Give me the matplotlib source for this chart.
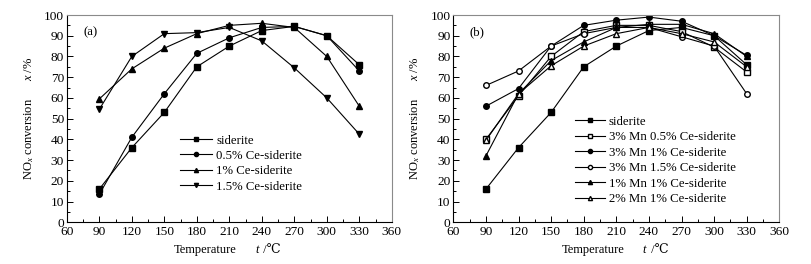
import matplotlib
matplotlib.use("Agg")
import matplotlib.pyplot as plt
from matplotlib.ticker import MultipleLocator

plt.rcParams['font.family'] = ['Liberation Serif', 'DejaVu Serif']
plt.rcParams['mathtext.fontset'] = 'custom'
plt.rcParams['mathtext.rm'] = 'Liberation Serif'
plt.rcParams['mathtext.it'] = 'Liberation Serif:italic'

temps = [90, 120, 150, 180, 210, 240, 270, 300, 330]

# Panel (a)
a_siderite = [16, 36, 53, 75, 85, 92.5, 94.5, 90, 76]
a_ce05 = [13.5, 41, 62, 81.5, 89, 94, 94.5, 90, 73]
a_ce1 = [59.5, 74, 84, 91, 95, 96, 94, 80, 56]
a_ce15 = [54.5, 80, 91, 91.5, 94, 87.5, 74.5, 60, 42.5]

# Panel (b)
b_siderite = [16, 36, 53, 75, 85, 92.5, 94, 90, 76]
b_mn3_ce05 = [40, 61, 80, 92, 95, 95, 92, 84.5, 72.5]
b_mn3_ce1 = [56, 64.5, 85, 95, 97.5, 99, 97, 90, 80.5]
b_mn3_ce15 = [66, 73, 85, 91, 94, 94, 89.5, 85, 62]
b_mn1_ce1 = [32, 62, 78, 87, 94, 95.5, 95.5, 91, 80]
b_mn2_ce1 = [39.5, 62, 75.5, 85, 91, 94, 91, 87, 75]

labels_a = ['siderite', '0.5% Ce-siderite', '1% Ce-siderite', '1.5% Ce-siderite']
labels_b = ['siderite', '3% Mn 0.5% Ce-siderite', '3% Mn 1% Ce-siderite',
            '3% Mn 1.5% Ce-siderite', '1% Mn 1% Ce-siderite', '2% Mn 1% Ce-siderite']

FS = 9.2

fig = plt.figure(figsize=(8.12, 2.64), dpi=100)
ax1 = fig.add_axes([66.8/812, 1-222.3/264, 325/812, 207.3/264])
ax2 = fig.add_axes([453.3/812, 1-222.3/264, 326/812, 207.3/264])

def style(ax, tag, xt_t, xt_unit):
    ax.set_xlim(60, 360)
    ax.set_ylim(0, 100)
    ax.xaxis.set_major_locator(MultipleLocator(30))
    ax.xaxis.set_minor_locator(MultipleLocator(15))
    ax.yaxis.set_major_locator(MultipleLocator(10))
    ax.yaxis.set_minor_locator(MultipleLocator(5))
    ax.tick_params(which='both', direction='in', top=False, right=False, labelsize=9.6)
    ax.tick_params(axis='y', pad=2)
    ax.tick_params(axis='x', pad=3)
    ax.tick_params(which='major', length=4, width=0.7)
    ax.tick_params(which='minor', length=2, width=0.7)
    for s in ['top', 'right']:
        ax.spines[s].set_color('#8a8a8a')
        ax.spines[s].set_linewidth(0.8)
    for s in ['left', 'bottom']:
        ax.spines[s].set_linewidth(0.8)
    ax.text(xt_t, -0.134, 'Temperature', transform=ax.transAxes, fontsize=9,
            ha='left', va='center')
    ax.text(xt_unit, -0.134, 't', transform=ax.transAxes, fontsize=9,
            ha='left', va='center', style='italic')
    ax.text(xt_unit + 0.016, -0.134, ' /\u2103', transform=ax.transAxes, fontsize=9,
            ha='left', va='center')
    ax.set_ylabel('NO$_x$ conversion      $x$ /%', fontsize=9, labelpad=6)
    ax.text(0.05, 0.918, tag, transform=ax.transAxes, fontsize=FS, va='center')

kw = dict(color='black', lw=0.8, ms=4)
legkw = dict(loc='lower left', frameon=False, fontsize=FS, handletextpad=0.3,
             labelspacing=0.27, borderpad=0, borderaxespad=0, markerscale=0.75)

ax1.plot(temps, a_siderite, marker='s', label=labels_a[0], **kw)
ax1.plot(temps, a_ce05, marker='o', label=labels_a[1], **kw)
ax1.plot(temps, a_ce1, marker='^', label=labels_a[2], **kw)
ax1.plot(temps, a_ce15, marker='v', label=labels_a[3], **kw)
style(ax1, '(a)', 0.33, 0.58)
ax1.legend(bbox_to_anchor=(0.348, 0.142), handlelength=2.55, **legkw)

ax2.plot(temps, b_siderite, marker='s', label=labels_b[0], **kw)
ax2.plot(temps, b_mn3_ce05, marker='s', mfc='white', label=labels_b[1], **kw)
ax2.plot(temps, b_mn3_ce1, marker='o', label=labels_b[2], **kw)
ax2.plot(temps, b_mn3_ce15, marker='o', mfc='white', label=labels_b[3], **kw)
ax2.plot(temps, b_mn1_ce1, marker='^', label=labels_b[4], **kw)
ax2.plot(temps, b_mn2_ce1, marker='^', mfc='white', label=labels_b[5], **kw)
style(ax2, '(b)', 0.333, 0.581)
ax2.legend(bbox_to_anchor=(0.373, 0.083), handlelength=2.35, **legkw)

fig.savefig('out.png', dpi=100)
